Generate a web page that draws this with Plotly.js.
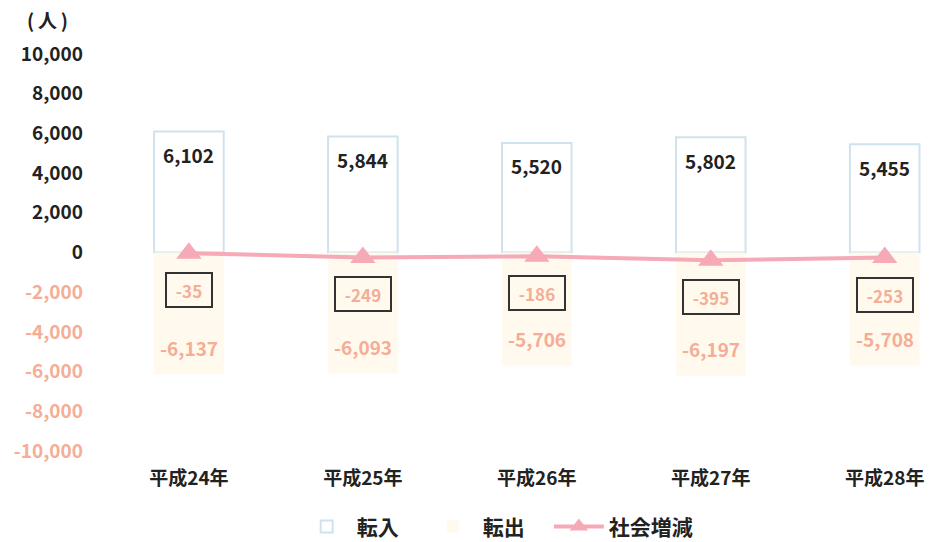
<!DOCTYPE html>
<html>
<head>
<meta charset="utf-8">
<script src="https://cdn.plot.ly/plotly-3.0.1.min.js"></script>
<style>html,body{margin:0;padding:0;background:#fff;}#chart{width:933px;height:542px;}</style>
</head>
<body>
<div id="chart"></div>
<script>
const categories = ['平成24年', '平成25年', '平成26年', '平成27年', '平成28年'];
const tennyu = [6102, 5844, 5520, 5802, 5455];        // 転入
const tenshutsu = [-6137, -6093, -5706, -6197, -5708]; // 転出
const shakai = [-35, -249, -186, -395, -253];          // 社会増減
const seriesNames = ['転入', '転出', '社会増減'];
const tickVals = [10000, 8000, 6000, 4000, 2000, 0, -2000, -4000, -6000, -8000, -10000];

const DARK = '#222222';
const SALMON = '#f5ad95';
const PINK = '#f6a9b6';
const FONT = '"Noto Sans CJK JP", "Noto Sans", sans-serif';
const GAP = '\u00a0\u00a0\u00a0\u00a0';

const fmt = v => v.toLocaleString('en-US');
const tickText = tickVals.map(v => v < 0
  ? `<span style="color:${SALMON}">${fmt(v)}</span>`
  : `<span style="color:${DARK}">${fmt(v)}</span>`);

const traces = [
  {
    type: 'bar', name: seriesNames[0] + GAP, x: categories, y: tennyu, width: 0.4,
    marker: {color: '#ffffff', line: {color: '#cfe2ef', width: 2}},
    hoverinfo: 'skip'
  },
  {
    type: 'bar', name: seriesNames[1] + GAP, x: categories, y: tenshutsu, width: 0.4,
    marker: {color: '#fff9ee', line: {color: '#fff9ee', width: 0}},
    hoverinfo: 'skip'
  },
  {
    type: 'scatter', mode: 'lines+markers', name: seriesNames[2], x: categories, y: shakai,
    line: {color: PINK, width: 4},
    marker: {symbol: 'triangle-up', size: 22, color: PINK},
    hoverinfo: 'skip'
  }
];

const annotations = [];
categories.forEach((c, i) => {
  annotations.push({x: c, y: tennyu[i], xref: 'x', yref: 'y', text: fmt(tennyu[i]),
    showarrow: false, yanchor: 'middle', yshift: -23,
    font: {family: FONT, size: 19, color: DARK, weight: 'bold'}});
  annotations.push({x: c, y: tenshutsu[i], xref: 'x', yref: 'y', text: fmt(tenshutsu[i]),
    showarrow: false, yanchor: 'middle', yshift: 27,
    font: {family: FONT, size: 19, color: SALMON, weight: 'bold'}});
  const t = fmt(shakai[i]);
  annotations.push({x: c, y: shakai[i], xref: 'x', yref: 'y', text: t,
    showarrow: false, yanchor: 'middle', yshift: -37,
    bordercolor: '#333333', borderwidth: 2, borderpad: 6, bgcolor: 'rgba(0,0,0,0)',
    width: t.length * 10 + 2, height: 20,
    font: {family: FONT, size: 17, color: SALMON, weight: 'bold'}});
});
annotations.push({x: -0.049, y: 1.086, xref: 'paper', yref: 'paper', xanchor: 'center', yanchor: 'middle',
  text: '(&#8201;人&#8201;)', showarrow: false, font: {family: FONT, size: 19, color: DARK, weight: 'bold'}});

const layout = {
  width: 933, height: 542,
  margin: {l: 88, r: 10, t: 54, b: 91},
  paper_bgcolor: '#ffffff', plot_bgcolor: '#ffffff',
  barmode: 'relative',
  showlegend: true,
  legend: {orientation: 'h', x: 0.318, xref: 'container', xanchor: 'left',
    y: 0.028, yref: 'container', yanchor: 'middle',
    font: {family: FONT, size: 21, color: DARK, weight: 'bold'}, itemwidth: 50, traceorder: 'normal'},
  xaxis: {
    type: 'category', range: [-0.58, 4.22], showgrid: false, zeroline: false, showline: false,
    ticks: '', ticklabelstandoff: 14,
    tickfont: {family: FONT, size: 19, color: DARK, weight: 'bold'}
  },
  yaxis: {
    range: [-10000, 10000], tickvals: tickVals, ticktext: tickText,
    showgrid: false, zeroline: false, showline: false, ticks: '', ticklabelstandoff: 4,
    tickfont: {family: FONT, size: 19, color: DARK, weight: 'bold'}
  },
  annotations: annotations,
  font: {family: FONT}
};

Plotly.newPlot('chart', traces, layout, {displayModeBar: false, staticPlot: true});
</script>
</body>
</html>
